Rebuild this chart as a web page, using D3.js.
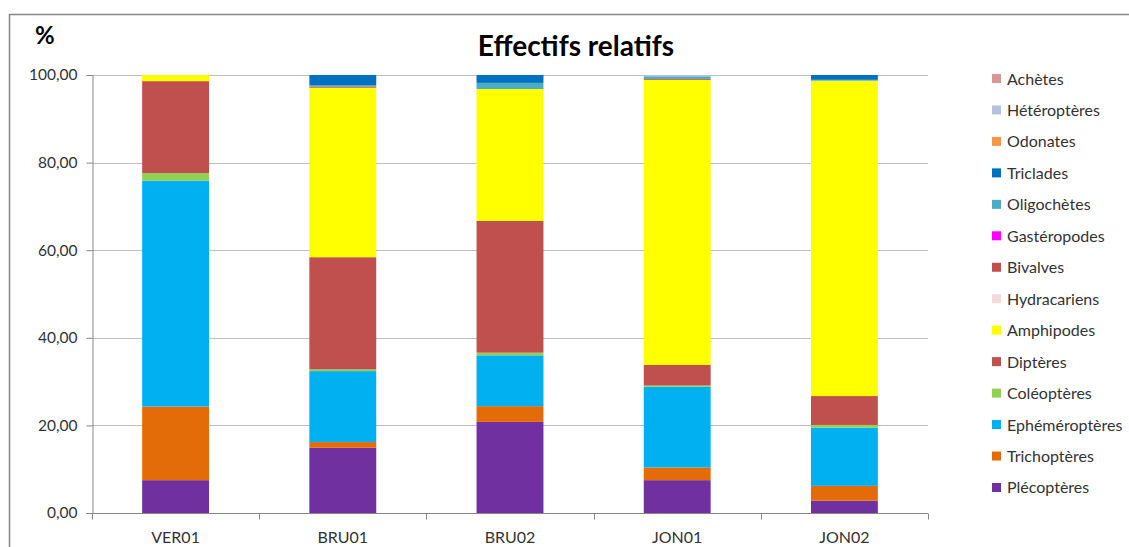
<!DOCTYPE html>
<html><head><meta charset="utf-8">
<script src="https://cdn.jsdelivr.net/npm/d3@7"></script>
<style>
body{margin:0;background:#fff;}
svg{display:block;font-family:Lato,"Open Sans",sans-serif;}
</style></head>
<body><svg id="c" width="1129" height="547"></svg>
<script>
const categories = ["VER01","BRU01","BRU02","JON01","JON02"];
// series bottom-to-top in stack order
const seriesNames = ["Plécoptères","Trichoptères","Ephéméroptères","Coléoptères","Diptères","Amphipodes","Hydracariens","Bivalves","Gastéropodes","Oligochètes","Triclades","Odonates","Hétéroptères","Achètes"];
const seriesColors = ["#7030A0","#E36C09","#00B0F0","#92D050","#C0504D","#FFFF00","#F2DCDB","#C0504D","#FF00FF","#4BACC6","#0070C0","#F79646","#B3C2E0","#D99694"];
const plecopteres    = [7.5, 14.9, 20.8, 7.5, 2.8];
const trichopteres   = [16.8, 1.3, 3.6, 2.9, 3.4];
const ephemeropteres = [51.6, 16.2, 11.6, 18.4, 13.3];
const coleopteres    = [1.7, 0.4, 0.6, 0.3, 0.6];
const dipteres       = [21.0, 25.6, 30.1, 4.7, 6.6];
const amphipodes     = [1.4, 38.7, 30.1, 65.1, 72.0];
const hydracariens   = [0, 0, 0, 0, 0];
const bivalves       = [0, 0.3, 0, 0.2, 0];
const gasteropodes   = [0, 0, 0, 0, 0];
const oligochetes    = [0, 0.3, 1.4, 0.6, 0.2];
const triclades      = [0, 2.3, 1.8, 0, 1.1];
const odonates       = [0, 0, 0, 0, 0];
const heteropteres   = [0, 0, 0, 0.3, 0];
const achetes        = [0, 0, 0, 0, 0];
const yTicks = [0, 20, 40, 60, 80, 100];

const seriesValues = [plecopteres,trichopteres,ephemeropteres,coleopteres,dipteres,amphipodes,hydracariens,bivalves,gasteropodes,oligochetes,triclades,odonates,heteropteres,achetes];
const table = categories.map((c,i)=>{const o={cat:c}; seriesNames.forEach((s,j)=>o[s]=seriesValues[j][i]); return o;});

const svg = d3.select("#c");
// outer chart border
svg.append("rect").attr("x",9.5).attr("y",14.5).attr("width",1140).attr("height",560)
  .attr("fill","none").attr("stroke","#868686").attr("stroke-width",1.5);

const L=92, R=928, T=75, B=513;
const x = d3.scaleBand().domain(categories).range([L,R]).paddingInner(0.6).paddingOuter(0.3);
const y = d3.scaleLinear().domain([0,100]).range([B,T]);
const fr = d3.formatLocale({decimal:",",thousands:" ",grouping:[3],currency:["","€"]}).format(".2f");

// gridlines
svg.append("g").selectAll("line").data(yTicks.filter(d=>d>0)).join("line")
  .attr("x1",L).attr("x2",R).attr("y1",d=>Math.round(y(d))+0.5).attr("y2",d=>Math.round(y(d))+0.5)
  .attr("stroke","#BFBFBF").attr("stroke-width",1.2);

// bars
const stack = d3.stack().keys(seriesNames)(table);
svg.append("g").selectAll("g").data(stack).join("g")
  .attr("fill",(d,i)=>seriesColors[i])
  .selectAll("rect").data(d=>d).join("rect")
  .attr("x",d=>x(d.data.cat)).attr("width",x.bandwidth())
  .attr("y",d=>y(d[1])).attr("height",d=>Math.max(0,y(d[0])-y(d[1])));

// y axis
const yAxis = svg.append("g").attr("transform",`translate(${L+0.5},0)`)
  .call(d3.axisLeft(y).tickValues(yTicks).tickFormat(fr).tickSize(6).tickPadding(9));
yAxis.select(".domain").attr("stroke","#868686");
yAxis.selectAll(".tick line").attr("stroke","#868686");
yAxis.selectAll("text").attr("font-size",15.5).attr("fill","#333").attr("font-family","Lato");

// x axis
const xg = svg.append("g").attr("transform",`translate(0,${B+0.5})`);
xg.append("line").attr("x1",L).attr("x2",R).attr("stroke","#868686");
const step = x.step();
const bounds = d3.range(categories.length+1).map(i=>L+i*step);
xg.selectAll(".tk").data(bounds).join("line").attr("class","tk")
  .attr("x1",d=>Math.round(d)+0.5).attr("x2",d=>Math.round(d)+0.5).attr("y1",0).attr("y2",6).attr("stroke","#868686");
xg.selectAll("text").data(categories).join("text")
  .attr("x",d=>x(d)+x.bandwidth()/2).attr("y",29).attr("text-anchor","middle")
  .attr("font-size",16).attr("fill","#333").text(d=>d);

// title and unit
svg.append("text").attr("x",576).attr("y",56).attr("text-anchor","middle")
  .attr("font-size",28).attr("font-weight","bold").attr("fill","#000").text("Effectifs relatifs");
svg.append("text").attr("x",35).attr("y",44).attr("font-size",24).attr("font-weight","bold").attr("fill","#000").text("%");

// legend (top = last series)
const legendItems = seriesNames.map((n,i)=>({n,c:seriesColors[i]})).reverse();
const lg = svg.append("g").selectAll("g").data(legendItems).join("g")
  .attr("transform",(d,i)=>`translate(992,${79+i*31.46})`);
lg.append("rect").attr("x",0).attr("y",-5).attr("width",9).attr("height",9).attr("fill",d=>d.c);
lg.append("text").attr("x",15).attr("y",5.5).attr("font-size",16).attr("fill","#333").text(d=>d.n);
</script></body></html>
